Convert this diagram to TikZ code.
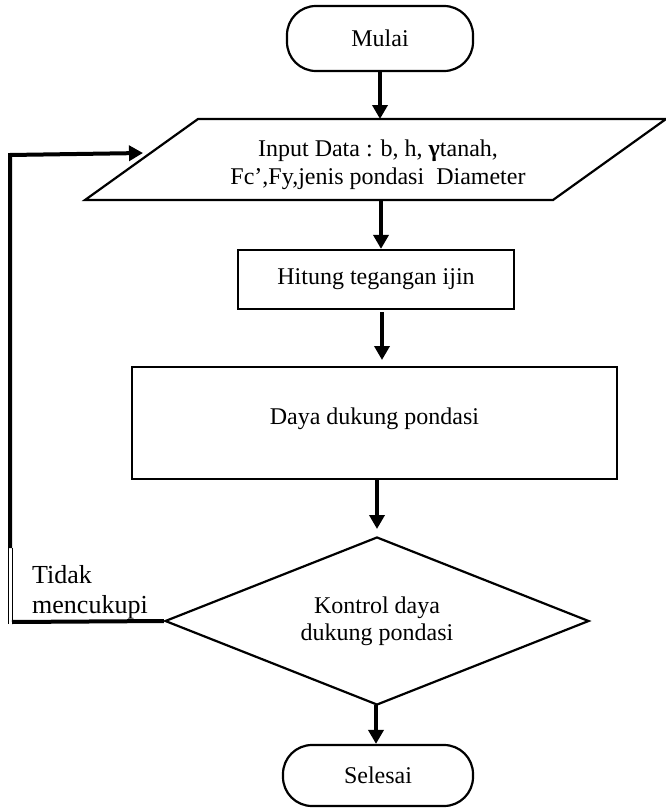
\documentclass[tikz,border=0pt]{standalone}
\usepackage{fontspec}
\setmainfont{Liberation Serif}
\usetikzlibrary{arrows.meta,shapes.geometric}
\tikzset{
  txt/.style={font=\fontsize{24}{28}\selectfont, align=center, inner sep=0pt},
  term/.style={draw, line width=2.2pt, rounded corners=29pt, inner sep=0pt, font=\fontsize{24}{28}\selectfont},
  procbox/.style={draw, line width=2.2pt, inner sep=0pt, font=\fontsize{24}{28}\selectfont, align=center},
  decbox/.style={draw, diamond, aspect=2.52, line width=2.2pt, inner sep=0pt, font=\fontsize{24}{27}\selectfont, align=center},
  flow/.style={line width=4pt, -{Triangle[width=15pt,length=14pt]}},
  loopline/.style={line width=4pt},
  thinedge/.style={line width=1pt}
}
\begin{document}
\begin{tikzpicture}[x=1pt,y=-1pt]
\useasboundingbox (0,0) rectangle (666,808);
% start
\node[term, minimum width=186pt, minimum height=65pt] (mulai) at (380,38.5) {Mulai};
% input parallelogram
\coordinate (pTL) at (198,119);
\coordinate (pTR) at (666,119);
\coordinate (pBR) at (553,200);
\coordinate (pBL) at (85,200);
\draw[line width=2.2pt, line join=miter] (pTL) -- (pTR) -- (pBR) -- (pBL) -- cycle;
\node[txt] (input) at (378,165) {Input Data : b, h, \textbf{γ}tanah,\\Fc’,Fy,jenis pondasi\ \ Diameter};
\coordinate (inTop) at (380,119);
\coordinate (inBot) at (381,200);
% process boxes
\node[procbox, minimum width=276pt, minimum height=59pt] (hitung) at (376,279.5) {Hitung tegangan ijin};
\node[procbox, minimum width=485pt, minimum height=112pt] (daya) at (374.5,423) {};
\node[txt] (dayatxt) at (374.5,419) {Daya dukung pondasi};
% decision
\node[decbox, minimum width=424pt, minimum height=168pt] (dec) at (377,621) {Kontrol daya\\dukung pondasi};
% end
\node[term, minimum width=190pt, minimum height=61pt] (selesai) at (378,775.5) {Selesai};
% arrows
\draw[flow] (mulai.south) -- (inTop);
\draw[flow] (inBot) -- (hitung.north -| inBot);
\coordinate (h1) at (382,312);
\coordinate (h2) at (382,360);
\draw[flow] (h1) -- (h2);
\coordinate (d1) at (377,480);
\coordinate (d2) at (377,529);
\draw[flow] (d1) -- (d2);
\coordinate (s1) at (376,705);
\draw[flow] (s1) -- (selesai.north -| s1);
% loop back
\coordinate (lA) at (12,622);
\coordinate (lB) at (10,548);
\coordinate (lC) at (10,153);
\coordinate (lTip) at (143,153);
\draw[loopline] (dec.west) -- (lA);
\draw[thinedge] (8,548) -- (8,624);
\draw[thinedge] (12,548) -- (12,622);
\draw[flow] (lB) -- ([yshift=-2pt]lC) -- (lTip);
\node[anchor=west, align=left, inner sep=0pt, font=\fontsize{26}{30}\selectfont] (tidak) at (32,592) {Tidak\\mencukupi};
\end{tikzpicture}
\end{document}
